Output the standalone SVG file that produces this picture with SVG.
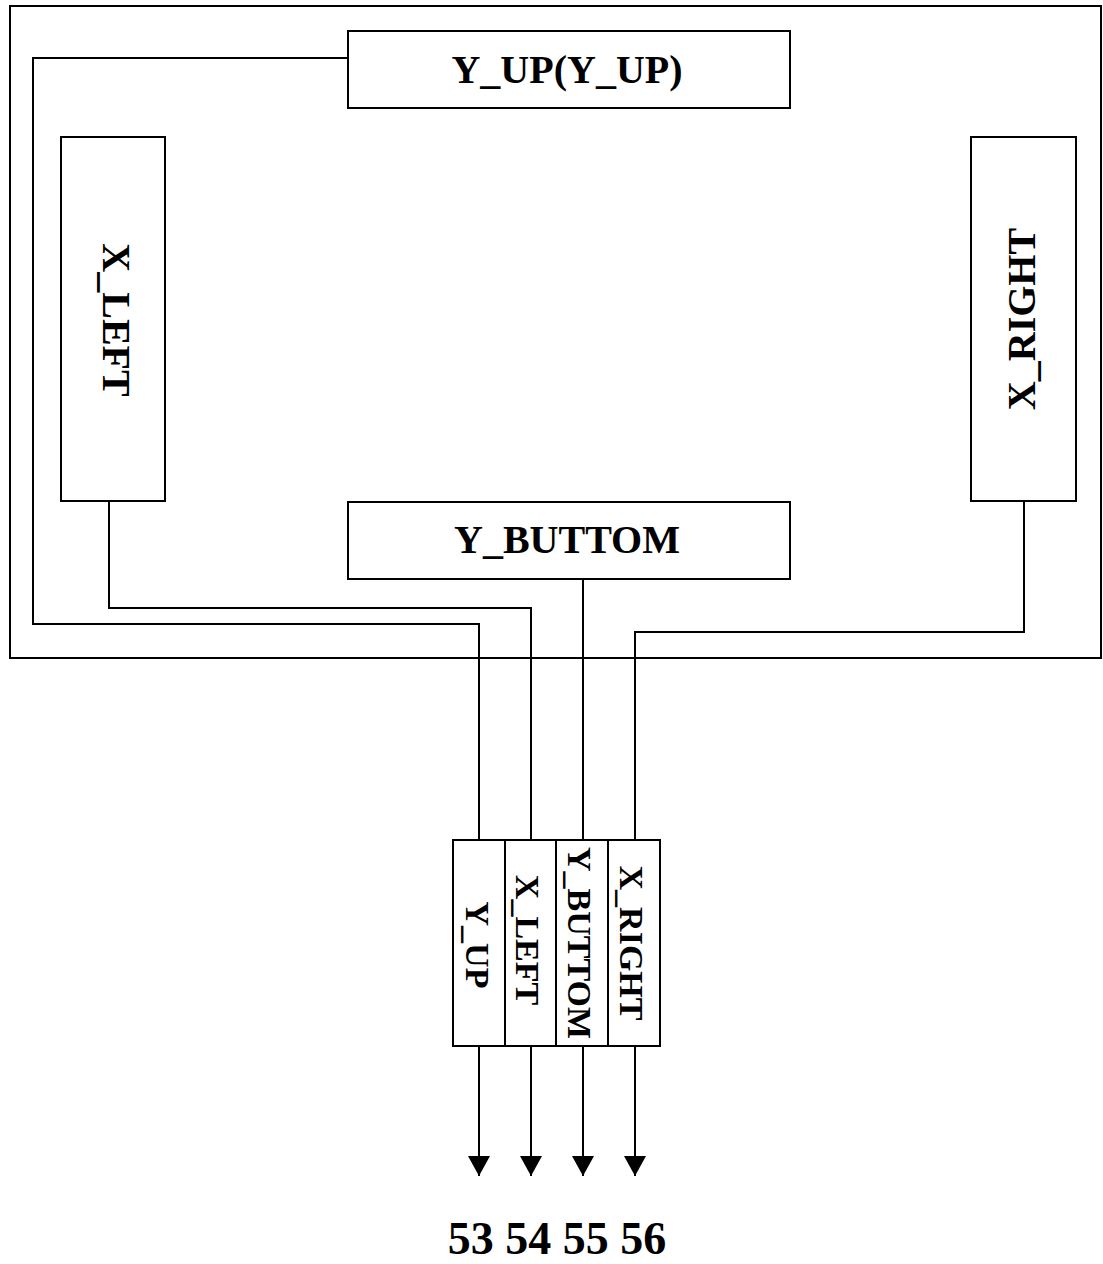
<svg xmlns="http://www.w3.org/2000/svg" width="1103" height="1264" viewBox="0 0 1103 1264">
<defs>
<style>
.box{fill:#fff;stroke:#000;stroke-width:2}
.ln{fill:none;stroke:#000;stroke-width:2}
.t{font-family:"Liberation Serif","Times New Roman",serif;font-weight:bold;fill:#000;text-anchor:middle}
.big{font-size:40px}
.sm{font-size:34px}
.num{font-size:46px}
</style>
<marker id="arr" viewBox="0 0 20 22" refX="20" refY="11" markerWidth="20" markerHeight="22" markerUnits="userSpaceOnUse" orient="auto">
<path d="M0,0 L20,11 L0,22 Z" fill="#000"/>
</marker>
</defs>
<rect width="1103" height="1264" fill="#fff"/>
<g id="frame"><rect class="box" x="10" y="6" width="1091" height="652"/></g>
<g id="y_up"><rect class="box" x="348" y="31" width="442" height="77"/><text class="t big" x="567" y="83">Y_UP(Y_UP)</text></g>
<g id="x_left"><rect class="box" x="61" y="137" width="104" height="364"/><text class="t big" transform="translate(103,320) rotate(90)">X_LEFT</text></g>
<g id="x_right"><rect class="box" x="971" y="137" width="105" height="364"/><text class="t big" transform="translate(1035,319) rotate(-90)">X_RIGHT</text></g>
<g id="y_buttom"><rect class="box" x="348" y="502" width="442" height="77"/><text class="t big" x="567" y="553">Y_BUTTOM</text></g>
<g id="connectors">
<polyline class="ln" points="348,58 33,58 33,624 479,624 479,840"/>
<polyline class="ln" points="109,501 109,608 531,608 531,840"/>
<polyline class="ln" points="583,579 583,840"/>
<polyline class="ln" points="1024,501 1024,632 635,632 635,840"/>
<line class="ln" x1="479" y1="1046" x2="479" y2="1176" marker-end="url(#arr)"/>
<line class="ln" x1="531" y1="1046" x2="531" y2="1176" marker-end="url(#arr)"/>
<line class="ln" x1="583" y1="1046" x2="583" y2="1176" marker-end="url(#arr)"/>
<line class="ln" x1="635" y1="1046" x2="635" y2="1176" marker-end="url(#arr)"/>
</g>
<g id="connector_block">
<rect class="box" x="453" y="840" width="207" height="206"/>
<line class="ln" x1="505" y1="840" x2="505" y2="1046"/>
<line class="ln" x1="556" y1="840" x2="556" y2="1046"/>
<line class="ln" x1="608" y1="840" x2="608" y2="1046"/>
<text class="t sm" transform="translate(466,945) rotate(90)">Y_UP</text>
<text class="t sm" transform="translate(516,940) rotate(90)">X_LEFT</text>
<text class="t sm" transform="translate(568,943) rotate(90)">Y_BUTTOM</text>
<text class="t sm" transform="translate(620,943) rotate(90)">X_RIGHT</text>
</g>
<g id="pins"><text class="t num" x="557" y="1254">53 54 55 56</text></g>
</svg>
